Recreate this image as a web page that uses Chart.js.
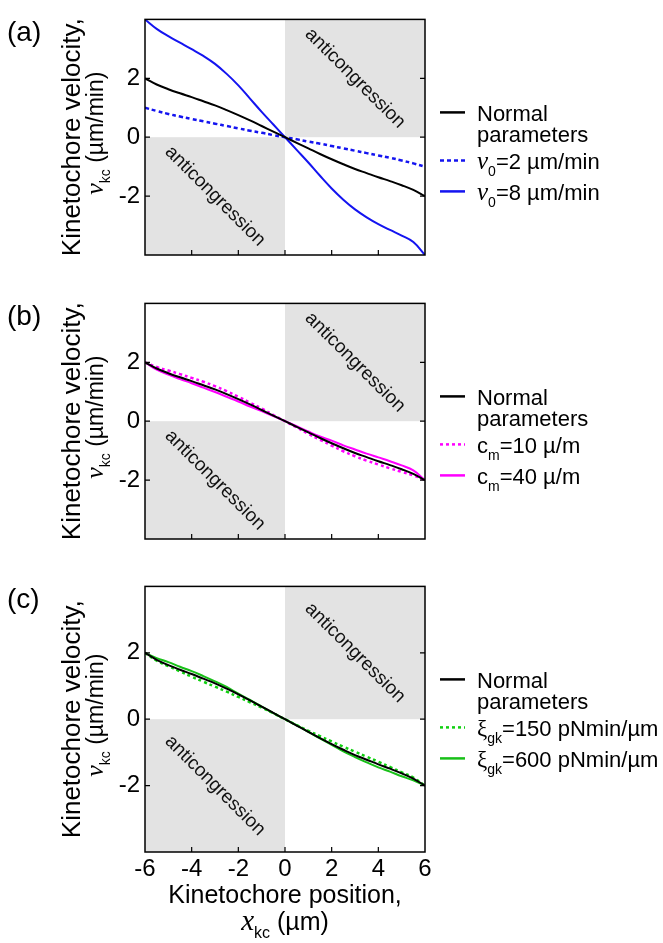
<!DOCTYPE html>
<html>
<head>
<meta charset="utf-8">
<script src="https://cdn.jsdelivr.net/npm/chart.js@4.4.0/dist/chart.umd.min.js"></script>
<style>
html, body { margin: 0; padding: 0; background: #fff; }
#wrap { position: relative; width: 663px; height: 943px; overflow: hidden; }
canvas { position: absolute; left: 0; }
</style>
</head>
<body>
<div id="wrap">
  <canvas id="chartA" width="663" height="290" style="top:0px"></canvas>
  <canvas id="chartB" width="663" height="290" style="top:284px"></canvas>
  <canvas id="chartC" width="663" height="376" style="top:567px"></canvas>
</div>
<script>
// kinetochore position (um)
const positions = [-6, -5.5, -5, -4.5, -4, -3.5, -3, -2.5, -2, -1.5, -1, -0.5, 0, 0.5, 1, 1.5, 2, 2.5, 3, 3.5, 4, 4.5, 5, 5.5, 6]

// kinetochore velocity (um/min)
const normalVel = [2.0, 1.79, 1.63, 1.49, 1.36, 1.22, 1.08, 0.92, 0.75, 0.57, 0.38, 0.19, 0, -0.19, -0.38, -0.57, -0.75, -0.92, -1.08, -1.22, -1.36, -1.49, -1.63, -1.79, -2.0]
const v0Low = [1.0, 0.89, 0.79, 0.7, 0.62, 0.54, 0.46, 0.38, 0.3, 0.22, 0.15, 0.07, 0, -0.07, -0.15, -0.22, -0.3, -0.38, -0.46, -0.54, -0.62, -0.7, -0.79, -0.89, -1.0]
const v0High = [4.0, 3.68, 3.43, 3.21, 2.99, 2.76, 2.49, 2.15, 1.76, 1.31, 0.86, 0.43, 0, -0.43, -0.86, -1.31, -1.74, -2.12, -2.45, -2.72, -2.95, -3.15, -3.34, -3.56, -4.0]
const cmLow = [2.0, 1.84, 1.72, 1.6, 1.47, 1.34, 1.19, 1.02, 0.83, 0.63, 0.43, 0.21, 0, -0.21, -0.43, -0.63, -0.83, -1.02, -1.19, -1.34, -1.47, -1.6, -1.72, -1.84, -2.0]
const cmHigh = [2.0, 1.75, 1.58, 1.43, 1.29, 1.14, 0.99, 0.83, 0.67, 0.5, 0.34, 0.17, 0, -0.17, -0.35, -0.52, -0.66, -0.82, -0.96, -1.1, -1.23, -1.36, -1.5, -1.67, -2.0]
const xiLow = [2.0, 1.76, 1.6, 1.44, 1.28, 1.13, 0.98, 0.83, 0.67, 0.51, 0.35, 0.18, 0, -0.18, -0.35, -0.51, -0.67, -0.83, -0.98, -1.13, -1.28, -1.44, -1.6, -1.76, -2.0]
const xiHigh = [2.0, 1.84, 1.72, 1.58, 1.45, 1.3, 1.14, 0.97, 0.77, 0.58, 0.38, 0.18, 0, -0.18, -0.38, -0.58, -0.77, -0.97, -1.14, -1.3, -1.45, -1.58, -1.72, -1.84, -2.0]

// ticks
const xTicks = [-6, -4, -2, 0, 2, 4, 6]
const yTicks = [-2, 0, 2]

// text runs: ['text', kind]  kind: '' plain, 'var' italic serif, 'sub' subscript, 'greek' serif
const normalLabel = [[['Normal', '']], [['parameters', '']]]
const labelsA = [normalLabel, [[['v', 'var'], ['0', 'sub'], ['=2 µm/min', '']]], [[['v', 'var'], ['0', 'sub'], ['=8 µm/min', '']]]]
const labelsB = [normalLabel, [[['c', ''], ['m', 'sub'], ['=10 µ/m', '']]], [[['c', ''], ['m', 'sub'], ['=40 µ/m', '']]]]
const labelsC = [normalLabel, [[['ξ', 'greek'], ['gk', 'sub'], ['=150 pNmin/µm', '']]], [[['ξ', 'greek'], ['gk', 'sub'], ['=600 pNmin/µm', '']]]]
const yTitle = [[['Kinetochore velocity,', '']], [['ν', 'var'], ['kc', 'sub'], [' (µm/min)', '']]]
const xTitle = [[['Kinetochore position,', '']], [['x', 'var'], ['kc', 'sub'], [' (µm)', '']]]
const shadeText = 'anticongression'

const SANS = '"Liberation Sans", Arial, sans-serif'
const SERIF = '"Liberation Serif", "Times New Roman", serif'
Chart.defaults.font.family = SANS
Chart.defaults.color = '#000'

function fontFor(kind, size) {
    if (kind === 'var') return 'italic ' + Math.round(size * 1.15) + 'px ' + SERIF
    if (kind === 'sub') return Math.round(size * 0.62) + 'px ' + SANS
    if (kind === 'greek') return Math.round(size * 1.05) + 'px ' + SERIF
    return size + 'px ' + SANS
}

function runsWidth(ctx, runs, size) {
    let w = 0
    runs.forEach(([t, k]) => { ctx.font = fontFor(k, size); w += ctx.measureText(t).width })
    return w
}

// draws runs on the alphabetic baseline y
function drawRuns(ctx, runs, x, y, size, center) {
    let cx = center ? x - runsWidth(ctx, runs, size) / 2 : x
    ctx.textBaseline = 'alphabetic'
    ctx.textAlign = 'left'
    runs.forEach(([t, k]) => {
        ctx.font = fontFor(k, size)
        ctx.fillText(t, cx, y + (k === 'sub' ? size * 0.3 : 0))
        cx += ctx.measureText(t).width
    })
}

const panelPlugin = {
    id: 'panel',
    beforeDatasetsDraw(chart) {
        const { ctx, chartArea: a, scales: { x, y } } = chart
        const x0 = x.getPixelForValue(0), y0 = y.getPixelForValue(0)
        ctx.save()
        ctx.fillStyle = '#e3e3e3'
        ctx.fillRect(x0, a.top, a.right - x0, y0 - a.top)
        ctx.fillRect(a.left, y0, x0 - a.left, a.bottom - y0)
        ctx.fillStyle = '#111'
        ctx.font = '19px ' + SANS
        ctx.textAlign = 'center'
        ctx.textBaseline = 'middle'
        const spots = [[x.max / 2, y.max / 2], [x.min / 2, y.min / 2]]
        spots.forEach(([vx, vy]) => {
            ctx.save()
            ctx.translate(x.getPixelForValue(vx), y.getPixelForValue(vy))
            ctx.rotate(Math.PI / 4)
            ctx.fillText(shadeText, 0, 0)
            ctx.restore()
        })
        ctx.restore()
    },
    afterDatasetsDraw(chart) {
        const { ctx, chartArea: a, scales: { x, y } } = chart
        ctx.save()
        ctx.strokeStyle = '#000'
        ctx.lineWidth = 1.5
        ctx.strokeRect(a.left, a.top, a.right - a.left, a.bottom - a.top)
        ctx.lineWidth = 1.2
        ctx.beginPath()
        xTicks.slice(1, -1).forEach(v => {
            const px = x.getPixelForValue(v)
            ctx.moveTo(px, a.bottom); ctx.lineTo(px, a.bottom - 5)
        })
        yTicks.forEach(v => {
            const py = y.getPixelForValue(v)
            ctx.moveTo(a.left, py); ctx.lineTo(a.left + 5, py)
            ctx.moveTo(a.right, py); ctx.lineTo(a.right - 5, py)
        })
        ctx.stroke()
        ctx.restore()
    },
    afterDraw(chart, args, opts) {
        const { ctx, chartArea: a } = chart
        ctx.save()
        ctx.fillStyle = '#000'
        // panel label
        ctx.font = '28px ' + SANS
        ctx.textAlign = 'left'
        ctx.textBaseline = 'alphabetic'
        ctx.fillText(opts.label, 7, a.top + 22)
        // y title, rotated
        const cy = (a.top + a.bottom) / 2
        const titleLines = [[80, 0, 26], [103, -4, 23]]
        titleLines.forEach(([bx, dy, size], i) => {
            ctx.save()
            ctx.translate(bx, cy + dy)
            ctx.rotate(-Math.PI / 2)
            drawRuns(ctx, yTitle[i], 0, 0, size, true)
            ctx.restore()
        })
        // legend
        const rows = [93, 141, 172]
        chart.data.datasets.forEach((ds, i) => {
            const ly = a.top + rows[i]
            ctx.save()
            ctx.strokeStyle = ds.borderColor
            ctx.lineWidth = 2.5
            ctx.setLineDash(ds.borderDash || [])
            ctx.beginPath()
            ctx.moveTo(440, ly); ctx.lineTo(465, ly)
            ctx.stroke()
            ctx.restore()
            opts.labels[i].forEach((runs, k) => {
                drawRuns(ctx, runs, 477, ly + 9 + k * 21, 22, false)
            })
        })
        // x title
        if (opts.xTitle) {
            const cx = (a.left + a.right) / 2
            drawRuns(ctx, xTitle[0], cx, a.bottom + 51, 25, true)
            drawRuns(ctx, xTitle[1], cx, a.bottom + 78, 25, true)
        }
        ctx.restore()
    }
}

function series(values, color, dash, width) {
    return {
        data: positions.map((p, i) => ({ x: p, y: values[i] })),
        borderColor: color,
        borderWidth: width,
        borderDash: dash,
        pointRadius: 0,
        fill: false,
        tension: 0.4,
    }
}

function makeChart(id, datasets, labels, panelLabel, showX) {
    const config = {
        type: 'line',
        data: { datasets: datasets },
        options: {
            responsive: false,
            animation: false,
            devicePixelRatio: 1,
            layout: { padding: { left: 100, right: 238, top: 5, bottom: showX ? 61 : 5 } },
            scales: {
                x: {
                    type: 'linear',
                    display: showX,
                    min: -6,
                    max: 6,
                    grid: { display: false, drawTicks: false },
                    border: { display: false },
                    afterBuildTicks: s => { s.ticks = xTicks.map(v => ({ value: v })) },
                    afterFit: s => { s.height = 30 },
                    ticks: { font: { size: 24 }, padding: 3, maxRotation: 0, autoSkip: false },
                },
                y: {
                    min: -4,
                    max: 4,
                    grid: { display: false, drawTicks: false },
                    border: { display: false },
                    afterBuildTicks: s => { s.ticks = yTicks.map(v => ({ value: v })) },
                    afterFit: s => { s.width = 45 },
                    ticks: { font: { size: 24 }, padding: 5 },
                },
            },
            plugins: {
                legend: { display: false },
                tooltip: { enabled: false },
                panel: { label: panelLabel, labels: labels, xTitle: showX },
            },
        },
        plugins: [panelPlugin],
    }
    return new Chart(document.getElementById(id), config)
}

function render_charts() {
    makeChart('chartA', [
        series(normalVel, '#000000', [], 2),
        series(v0Low, '#1414f0', [4, 3], 2.5),
        series(v0High, '#1414f0', [], 2),
    ], labelsA, '(a)', false)
    makeChart('chartB', [
        series(normalVel, '#000000', [], 2),
        series(cmLow, '#ff00ff', [3, 3], 2.5),
        series(cmHigh, '#ff00ff', [], 2),
    ], labelsB, '(b)', false)
    makeChart('chartC', [
        series(normalVel, '#000000', [], 2),
        series(xiLow, '#10d010', [3, 3], 2.5),
        series(xiHigh, '#18c018', [], 2),
    ], labelsC, '(c)', true)
}

document.addEventListener('DOMContentLoaded', render_charts)
</script>
</body>
</html>
